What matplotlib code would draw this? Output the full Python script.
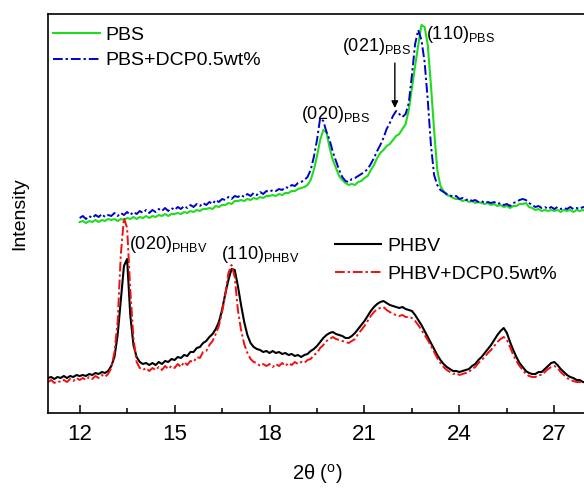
import numpy as np
import matplotlib
matplotlib.use("Agg")
import matplotlib.pyplot as plt
from matplotlib.ticker import MultipleLocator

plt.rcParams["font.family"] = ["Liberation Sans", "DejaVu Sans"]
plt.rcParams["mathtext.fontset"] = "custom"
plt.rcParams["mathtext.rm"] = "Liberation Sans"
plt.rcParams["mathtext.it"] = "Liberation Sans:italic"

# 2theta grids (degrees)
theta_pbs = np.round(np.arange(12.0, 28.001, 0.1), 1)
theta_phbv = np.round(np.arange(11.0, 28.001, 0.1), 1)

# intensities (arbitrary units)
pbs = [191, 192, 190, 192, 191, 193, 191, 193, 192, 194,
       193, 194, 192, 194, 193, 195, 194, 196, 194, 196,
       195, 197, 195, 197, 196, 198, 197, 199, 197, 199,
       199, 200, 199, 201, 200, 202, 201, 203, 202, 204,
       204, 205, 204, 207, 206, 208, 208, 210, 209, 212,
       212, 213, 212, 214, 213, 215, 214, 216, 215, 217,
       217, 218, 217, 219, 218, 220, 220, 222, 222, 224,
       225, 226, 228, 233, 243, 257, 273, 283, 281, 265,
       253, 245, 237, 233, 230, 228, 229, 228, 231, 232,
       235, 237, 243, 248, 255, 260, 263, 267, 269, 273,
       277, 279, 284, 289, 303, 325, 347, 368, 388, 386,
       368, 328, 283, 243, 227, 222, 218, 217, 215, 214,
       214, 212, 213, 211, 212, 210, 211, 210, 209, 210,
       208, 209, 207, 208, 206, 207, 205, 207, 207, 209,
       209, 210, 206, 205, 203, 204, 202, 203, 202, 203,
       202, 203, 201, 203, 202, 203, 201, 203, 202, 203, 202]

pbs_dcp = [195, 197, 194, 197, 195, 198, 196, 199, 196, 198,
           197, 200, 197, 200, 198, 201, 198, 201, 199, 202,
           200, 203, 200, 203, 201, 204, 202, 205, 202, 205,
           203, 206, 204, 207, 205, 208, 206, 209, 207, 210,
           208, 211, 209, 213, 211, 214, 213, 216, 214, 217,
           216, 218, 216, 219, 217, 220, 218, 221, 219, 222,
           221, 223, 222, 224, 223, 226, 225, 228, 227, 230,
           231, 233, 236, 243, 256, 273, 295, 292, 281, 273,
           261, 252, 243, 236, 232, 231, 234, 235, 237, 239,
           241, 244, 249, 255, 262, 268, 275, 284, 290, 297,
           302, 299, 296, 299, 310, 338, 369, 383, 373, 351,
           313, 268, 238, 228, 223, 221, 219, 218, 216, 217,
           214, 215, 213, 214, 212, 213, 211, 212, 210, 211,
           210, 211, 209, 210, 208, 209, 207, 210, 211, 213,
           214, 213, 210, 208, 206, 207, 205, 206, 204, 206,
           204, 206, 204, 205, 204, 206, 204, 205, 204, 206, 205]

phbv = [35, 36, 34, 36, 35, 37, 35, 37, 36, 38,
        37, 38, 37, 39, 38, 40, 39, 41, 40, 42,
        47, 56, 78, 113, 147, 154, 98, 68, 56, 51,
        49, 50, 48, 50, 48, 51, 49, 52, 51, 54,
        53, 56, 55, 58, 57, 61, 61, 65, 66, 70,
        72, 76, 79, 84, 91, 103, 119, 133, 144, 143,
        127, 108, 91, 78, 70, 66, 64, 63, 61, 62,
        60, 62, 60, 61, 59, 60, 58, 59, 57, 58,
        56, 58, 59, 62, 64, 67, 71, 75, 78, 80,
        81, 79, 78, 77, 75, 75, 77, 80, 84, 88,
        92, 97, 102, 106, 109, 111, 112, 110, 108, 107,
        106, 105, 106, 104, 103, 102, 98, 93, 88, 82,
        76, 70, 64, 58, 53, 49, 46, 44, 42, 42,
        41, 42, 43, 44, 47, 49, 53, 56, 60, 64,
        68, 73, 78, 82, 85, 80, 71, 63, 56, 50,
        46, 42, 40, 39, 39, 41, 41, 44, 47, 50,
        51, 48, 44, 41, 38, 36, 35, 33, 33, 31, 31]

phbv_dcp = [31, 33, 30, 32, 31, 33, 31, 34, 32, 35,
            33, 35, 33, 36, 34, 37, 35, 38, 36, 39,
            45, 61, 91, 158, 195, 185, 123, 75, 51, 45,
            43, 45, 42, 45, 43, 46, 43, 47, 44, 47,
            45, 49, 46, 51, 48, 52, 51, 56, 55, 61,
            62, 68, 72, 79, 87, 101, 118, 140, 148, 136,
            103, 83, 69, 60, 54, 51, 50, 47, 49, 47,
            49, 46, 49, 47, 50, 47, 50, 48, 51, 49,
            51, 50, 53, 54, 58, 60, 65, 68, 72, 74,
            76, 74, 73, 72, 71, 70, 72, 74, 79, 83,
            87, 92, 97, 101, 104, 105, 106, 103, 101, 99,
            98, 97, 98, 96, 96, 95, 92, 88, 83, 78,
            73, 67, 61, 55, 50, 46, 43, 41, 39, 40,
            38, 39, 40, 41, 44, 46, 50, 53, 56, 60,
            63, 67, 71, 74, 76, 73, 66, 58, 52, 47,
            43, 39, 37, 36, 36, 38, 38, 41, 44, 46,
            47, 45, 41, 38, 35, 33, 32, 31, 31, 30, 30]

dashdot = (0, (5, 1.5, 1.2, 1.5))

fig = plt.figure(figsize=(5.84, 4.90), dpi=100)
ax = fig.add_axes([48 / 584, 77 / 490, 538 / 584, 399 / 490])

l_pbs, = ax.plot(theta_pbs, pbs, color="#1fdc1f", lw=1.5, label="PBS")
l_pbsd, = ax.plot(theta_pbs, pbs_dcp, color="#0000cc", lw=1.4, ls=dashdot,
                  label="PBS+DCP0.5wt%")
l_phbv, = ax.plot(theta_phbv, phbv, color="black", lw=1.5, label="PHBV")
l_phbvd, = ax.plot(theta_phbv, phbv_dcp, color="#f01010", lw=1.4, ls=dashdot,
                   label="PHBV+DCP0.5wt%")

ax.set_xlim(11, 28)
ax.set_ylim(0, 399)
ax.set_yticks([])
ax.xaxis.set_major_locator(MultipleLocator(3))
ax.xaxis.set_minor_locator(MultipleLocator(1.5))
ax.tick_params(axis="x", which="major", direction="in", length=6, width=1.1,
               labelsize=16, pad=8)
ax.tick_params(axis="x", which="minor", direction="in", length=3.5, width=1.1)
for s in ax.spines.values():
    s.set_linewidth(1.2)

ax.set_xlabel("2θ ($^{\\rm o}$)", fontsize=14.5, labelpad=12)
ax.set_ylabel("Intensity", fontsize=14, labelpad=14)

# peak labels
ax.text(18.99, 294, "(020)$_{\\rm PBS}$", fontsize=13)
ax.text(20.28, 362, "(021)$_{\\rm PBS}$", fontsize=13)
ax.text(22.94, 374, "(110)$_{\\rm PBS}$", fontsize=13)
ax.text(13.56, 164, "(020)$_{\\rm PHBV}$", fontsize=13)
ax.text(16.46, 154, "(110)$_{\\rm PHBV}$", fontsize=13)
ax.annotate("", xy=(21.96, 305), xytext=(21.96, 350),
            arrowprops=dict(arrowstyle="-|>", color="black", lw=1,
                            mutation_scale=10, shrinkA=0, shrinkB=0))

leg1 = ax.legend(handles=[l_pbs, l_pbsd], loc="upper left",
                 bbox_to_anchor=(0.009, 0.97), frameon=False, fontsize=14,
                 handlelength=2.4, handletextpad=0.3, labelspacing=0.42,
                 borderpad=0, borderaxespad=0)
ax.add_artist(leg1)
ax.legend(handles=[l_phbv, l_phbvd], loc="upper left",
          bbox_to_anchor=(0.533, 0.44), frameon=False, fontsize=14,
          handlelength=2.4, handletextpad=0.3, labelspacing=0.52,
          borderpad=0, borderaxespad=0)

fig.savefig("out.png", dpi=100)
